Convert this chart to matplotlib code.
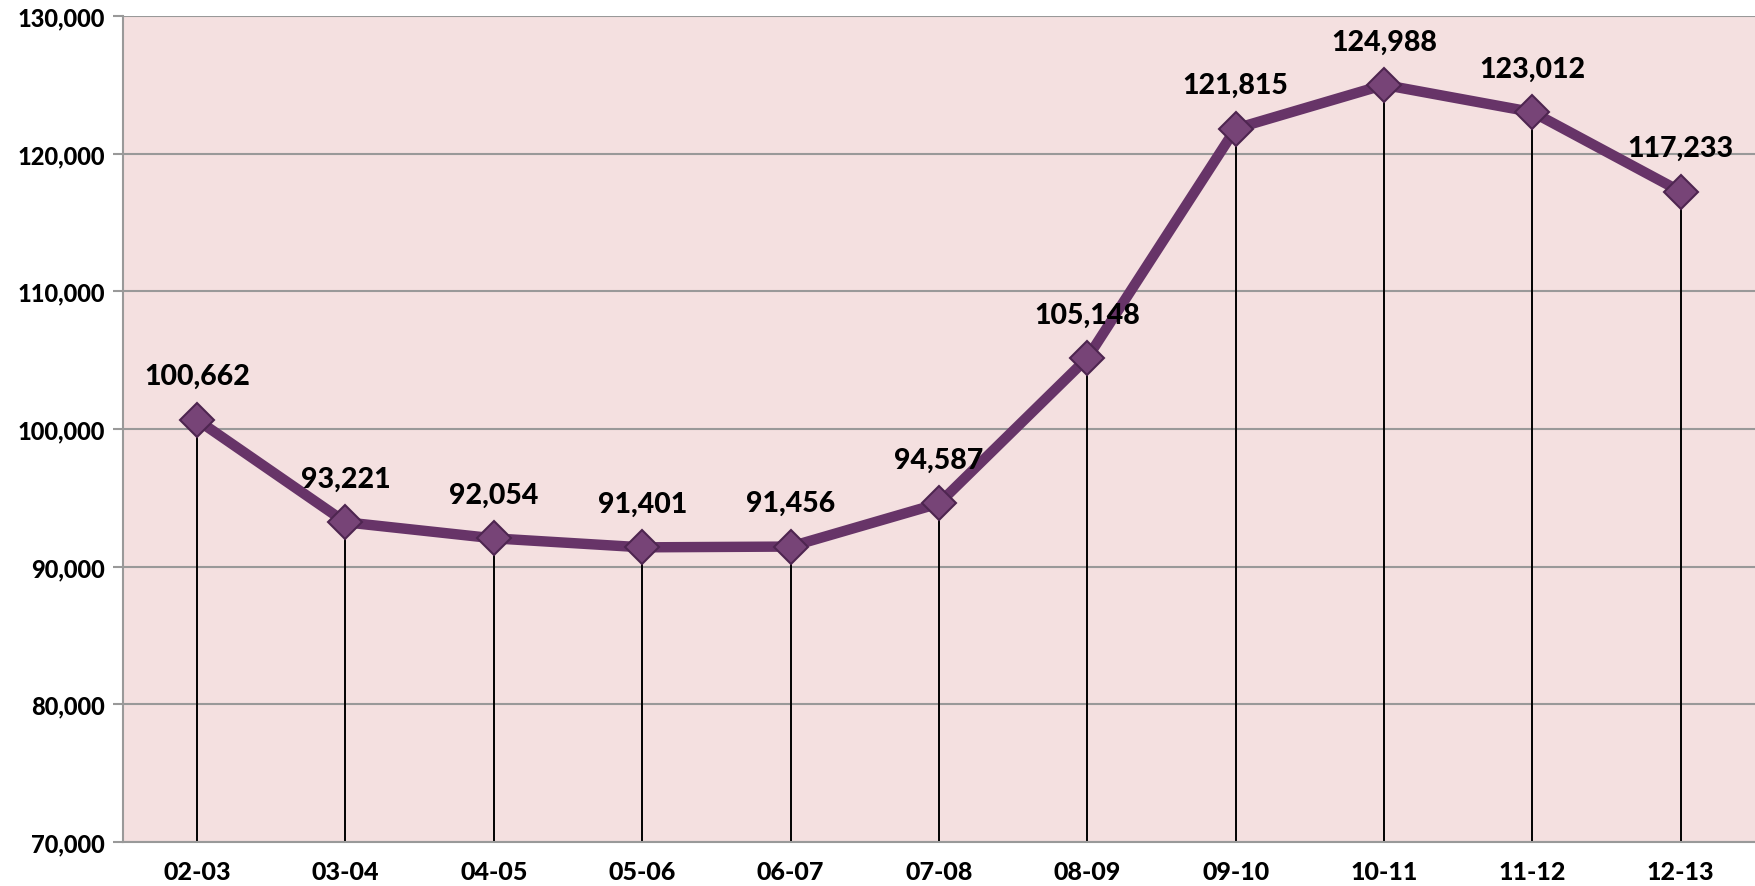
import matplotlib
matplotlib.use('Agg')
import matplotlib.pyplot as plt
from matplotlib.ticker import FuncFormatter

# data
years = ['02-03', '03-04', '04-05', '05-06', '06-07', '07-08',
         '08-09', '09-10', '10-11', '11-12', '12-13']
values = [100662, 93221, 92054, 91401, 91456, 94587,
          105148, 121815, 124988, 123012, 117233]
y_ticks = [70000, 80000, 90000, 100000, 110000, 120000, 130000]

LINE_COLOR = '#673468'
BG_COLOR = '#F4E0E0'
GRID_COLOR = '#999999'

plt.rcParams['font.family'] = ['Lato', 'DejaVu Sans']

fig = plt.figure(figsize=(17.55, 8.87), dpi=100)
ax = fig.add_axes([0.070, 0.0496, 0.930, 0.9314])
ax.set_facecolor(BG_COLOR)

x = list(range(len(years)))

# drop lines
ax.vlines(x, y_ticks[0], values, colors='black', linewidth=1.4, zorder=2)

ax.plot(x, values, color=LINE_COLOR, linewidth=7.5, solid_capstyle='round',
        solid_joinstyle='round', zorder=3)
ax.plot(x, values, linestyle='none', marker='D', markersize=17,
        markerfacecolor='#774477', markeredgecolor='#4E2550',
        markeredgewidth=1.5, zorder=4)

for xi, v in zip(x, values):
    ax.annotate(f'{v:,}', (xi, v), xytext=(0, 22), textcoords='offset points',
                ha='center', va='bottom', fontsize=20.5, fontweight='black',
                color='black', zorder=5)

ax.set_xlim(-0.5, len(years) - 0.5)
ax.set_ylim(y_ticks[0], y_ticks[-1])
ax.set_yticks(y_ticks)
ax.yaxis.set_major_formatter(FuncFormatter(lambda v, p: f'{int(v):,}'))
ax.set_xticks(x)
ax.set_xticklabels(years)

ax.grid(True, axis='y', color=GRID_COLOR, linewidth=1.5, zorder=1)
ax.set_axisbelow(True)

for side in ['top', 'right']:
    ax.spines[side].set_visible(False)
ax.spines['left'].set_color(GRID_COLOR)
ax.spines['left'].set_linewidth(1.5)
ax.spines['bottom'].set_color(GRID_COLOR)
ax.spines['bottom'].set_linewidth(1.5)

ax.tick_params(axis='y', length=7, width=1.5, color=GRID_COLOR,
               labelsize=17, pad=6)
ax.tick_params(axis='x', length=0, labelsize=18, pad=13)
for lab in ax.get_xticklabels() + ax.get_yticklabels():
    lab.set_fontweight('black')

fig.savefig('out.png', dpi=100)
